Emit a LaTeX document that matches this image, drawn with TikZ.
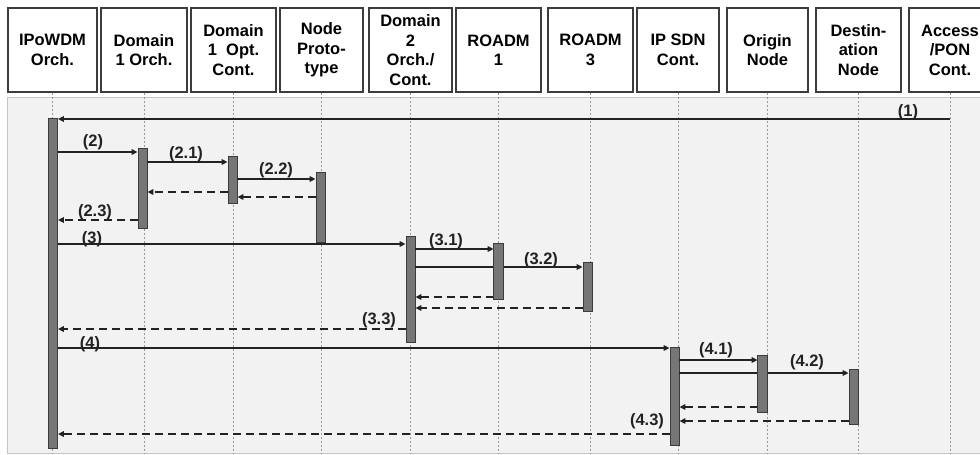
\documentclass[tikz,border=0pt]{standalone}
\usepackage{fontspec}
\setmainfont{Liberation Sans}
\usetikzlibrary{arrows.meta}
\definecolor{panelbg}{HTML}{F2F2F2}
\definecolor{panelbd}{HTML}{C4C4C4}
\definecolor{barfill}{HTML}{767676}
\definecolor{bardraw}{HTML}{3C3C3C}
\definecolor{linec}{HTML}{222222}
\definecolor{lifec}{HTML}{9A9A9A}
\begin{document}
\begin{tikzpicture}[x=1pt,y=-1pt,
 hdr/.style={draw=bardraw, line width=1.1pt, fill=white, minimum height=84pt, inner sep=0pt, align=center, font=\bfseries\fontsize{16.5}{19.5}\selectfont},
 actbar/.style={draw=bardraw, fill=barfill, line width=0.8pt, minimum width=9pt, inner sep=0pt},
 barover/.style={draw=bardraw, fill=barfill, line width=0.8pt},
 msg/.style={draw=linec, line width=1.4pt, -{Triangle[length=6pt,width=5.5pt]}},
 ret/.style={msg, dash pattern=on 8pt off 5pt},
 life/.style={draw=lifec, line width=0.7pt, dash pattern=on 2pt off 2pt},
 lbl/.style={font=\bfseries\fontsize{16.5}{19}\selectfont, inner sep=0pt, text=linec},
]
\useasboundingbox (0,0) rectangle (980,455);
% panel
\draw[fill=panelbg, draw=panelbd, line width=0.8pt] (7,97) rectangle (995,453);
% headers
\node[hdr, minimum width=89pt] (h1) at (52.5,50) {IPoWDM\\Orch.};
\node[hdr, minimum width=86pt] (h2) at (144,50) {Domain\\1 Orch.};
\node[hdr, minimum width=85pt] (h3) at (233.5,50) {Domain\\1~ Opt.\\Cont.};
\node[hdr, minimum width=83pt] (h4) at (321.5,50) {Node\\Proto-\\type};
\node[hdr, minimum width=83pt] (h5) at (410.5,50) {Domain\\2\\Orch./\\Cont.};
\node[hdr, minimum width=85pt] (h6) at (498.5,50) {ROADM\\1};
\node[hdr, minimum width=85pt] (h7) at (590.5,50) {ROADM\\3};
\node[hdr, minimum width=82pt] (h8) at (678,50) {IP SDN\\Cont.};
\node[hdr, minimum width=81pt] (h9) at (767.5,50) {Origin\\Node};
\node[hdr, minimum width=85pt] (h10) at (858.5,50) {Destin-\\ation\\Node};
\node[hdr, minimum width=82pt] (h11) at (950,50) {Access\\/PON\\Cont.};
% lifelines
\foreach \h in {h1,h2,h3,h4,h5,h6,h7,h8,h9,h10,h11}
  \draw[life] (\h.south) -- (\h.south |- 0,453);
% activation bars
\node[actbar, minimum height=330pt] (b1) at (53,283) {};
\node[actbar, minimum height=80pt] (b2) at (142.5,188) {};
\node[actbar, minimum height=47pt] (b3) at (232.5,179.5) {};
\node[actbar, minimum height=70pt] (b4) at (320.5,207) {};
\node[actbar, minimum height=106pt] (b5) at (410.5,289) {};
\node[actbar, minimum height=55pt] (b6) at (498.5,271.5) {};
\node[actbar, minimum height=49pt] (b7) at (587.5,286.5) {};
\node[actbar, minimum height=98pt] (b8) at (674.5,396) {};
\node[actbar, minimum height=56pt] (b9) at (762.5,384) {};
\node[actbar, minimum height=55pt] (b10) at (853.5,396.5) {};
% messages
\draw[msg] (h11.south |- 0,119) -- (b1.east |- 0,119);
\draw[msg] (b1.east |- 0,152) -- (b2.west |- 0,152);
\draw[msg] (b2.east |- 0,162) -- (b3.west |- 0,162);
\draw[msg] (b3.east |- 0,179) -- (b4.west |- 0,179);
\draw[ret] (b3.west |- 0,192) -- (b2.east |- 0,192);
\draw[ret] (b4.west |- 0,197) -- (b3.east |- 0,197);
\draw[ret] (b2.west |- 0,220) -- (b1.east |- 0,220);
\draw[msg] (b1.east |- 0,244) -- (b5.west |- 0,244);
\draw[msg] (b5.east |- 0,249) -- (b6.west |- 0,249);
\draw[msg] (b5.east |- 0,267) -- (b7.west |- 0,267);
\draw[ret] (b6.west |- 0,297) -- (b5.east |- 0,297);
\draw[ret] (b7.west |- 0,308) -- (b5.east |- 0,308);
\draw[ret] (b5.west |- 0,329) -- (b1.east |- 0,329);
\draw[msg] (b1.east |- 0,348) -- (b8.west |- 0,348);
\draw[msg] (b8.east |- 0,360) -- (b9.west |- 0,360);
\draw[msg] (b8.east |- 0,373) -- (b10.west |- 0,373);
\draw[ret] (b9.west |- 0,407) -- (b8.east |- 0,407);
\draw[ret] (b10.west |- 0,421) -- (b8.east |- 0,421);
\draw[ret] (b8.west |- 0,434) -- (b1.east |- 0,434);
% bars crossed by messages are drawn over them
\draw[barover] (b6.south west) rectangle (b6.north east);
\draw[barover] (b9.south west) rectangle (b9.north east);
% labels
\node[lbl] (l1) at (908,112.5) {(1)};
\node[lbl] (l2) at (93,142) {(2)};
\node[lbl] (l21) at (186,154) {(2.1)};
\node[lbl] (l22) at (276,170) {(2.2)};
\node[lbl] (l23) at (95,212) {(2.3)};
\node[lbl] (l3) at (92,239) {(3)};
\node[lbl] (l31) at (446,241) {(3.1)};
\node[lbl] (l32) at (541,260) {(3.2)};
\node[lbl] (l33) at (379,320) {(3.3)};
\node[lbl] (l4) at (90,344) {(4)};
\node[lbl] (l41) at (716,350) {(4.1)};
\node[lbl] (l42) at (807,362) {(4.2)};
\node[lbl] (l43) at (647,421) {(4.3)};
\end{tikzpicture}
\end{document}
